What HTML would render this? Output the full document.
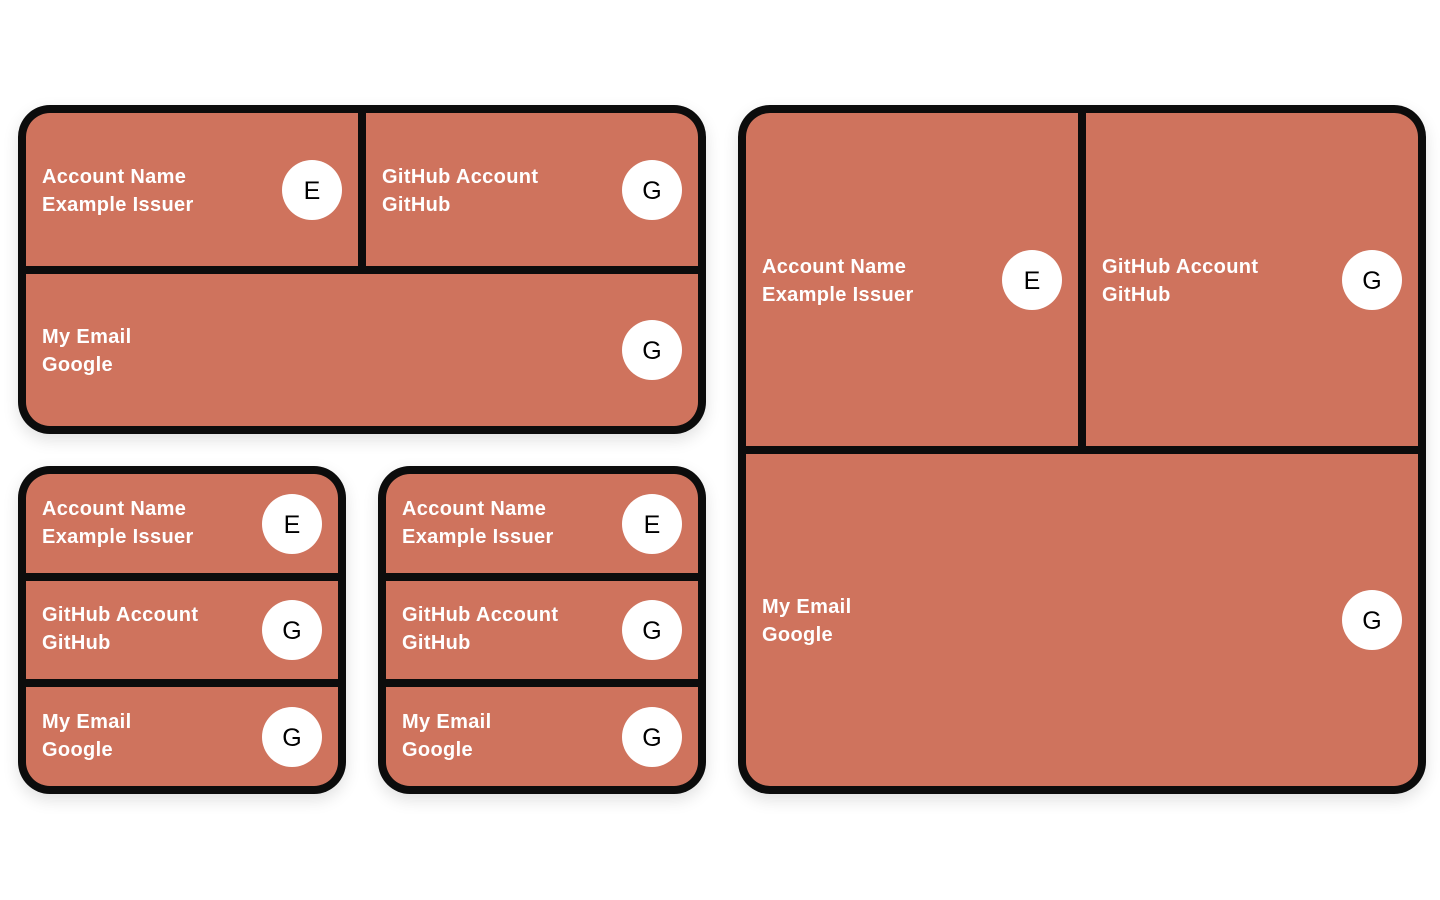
<!DOCTYPE html>
<html><head><meta charset="utf-8"><style>
body{margin:0;width:1440px;height:900px;background:#fff;position:relative;overflow:hidden;font-family:"Liberation Sans",sans-serif}
.w{position:absolute;background:#0c0c0c;border-radius:32px;box-shadow:0 6px 16px rgba(0,0,0,0.12)}
.in{position:absolute;left:8px;top:8px;right:8px;bottom:8px;border-radius:24px;overflow:hidden;background:#0c0c0c}
.c{position:absolute;background:#cf735d}
.t{position:absolute;left:16px;top:50%;transform:translateY(-50%);margin-top:1px;color:#fff;font-weight:bold;font-size:20px;letter-spacing:0.35px;line-height:28px;white-space:nowrap}
.s .t{margin-top:-1px}
.i{position:absolute;right:16px;top:50%;margin-top:-30px;width:60px;height:60px;border-radius:50%;background:#fff;color:#000;font-size:25px;line-height:62px;text-align:center}
</style></head><body>

<div class="w" style="left:18px;top:105px;width:688px;height:329px">
 <div class="in">
  <div class="c" style="left:0;top:0;width:332px;height:153px"><div class="t">Account Name<br>Example Issuer</div><div class="i">E</div></div>
  <div class="c" style="left:340px;top:0;width:332px;height:153px"><div class="t">GitHub Account<br>GitHub</div><div class="i">G</div></div>
  <div class="c" style="left:0;top:161px;width:672px;height:152px"><div class="t">My Email<br>Google</div><div class="i">G</div></div>
 </div>
</div>

<div class="w s" style="left:18px;top:466px;width:328px;height:328px">
 <div class="in">
  <div class="c" style="left:0;top:0;width:312px;height:99px"><div class="t">Account Name<br>Example Issuer</div><div class="i">E</div></div>
  <div class="c" style="left:0;top:107px;width:312px;height:98px"><div class="t">GitHub Account<br>GitHub</div><div class="i">G</div></div>
  <div class="c" style="left:0;top:213px;width:312px;height:99px"><div class="t">My Email<br>Google</div><div class="i">G</div></div>
 </div>
</div>

<div class="w s" style="left:378px;top:466px;width:328px;height:328px">
 <div class="in">
  <div class="c" style="left:0;top:0;width:312px;height:99px"><div class="t">Account Name<br>Example Issuer</div><div class="i">E</div></div>
  <div class="c" style="left:0;top:107px;width:312px;height:98px"><div class="t">GitHub Account<br>GitHub</div><div class="i">G</div></div>
  <div class="c" style="left:0;top:213px;width:312px;height:99px"><div class="t">My Email<br>Google</div><div class="i">G</div></div>
 </div>
</div>

<div class="w" style="left:738px;top:105px;width:688px;height:689px">
 <div class="in">
  <div class="c" style="left:0;top:0;width:332px;height:333px"><div class="t">Account Name<br>Example Issuer</div><div class="i">E</div></div>
  <div class="c" style="left:340px;top:0;width:332px;height:333px"><div class="t">GitHub Account<br>GitHub</div><div class="i">G</div></div>
  <div class="c" style="left:0;top:341px;width:672px;height:332px"><div class="t">My Email<br>Google</div><div class="i">G</div></div>
 </div>
</div>

</body></html>
